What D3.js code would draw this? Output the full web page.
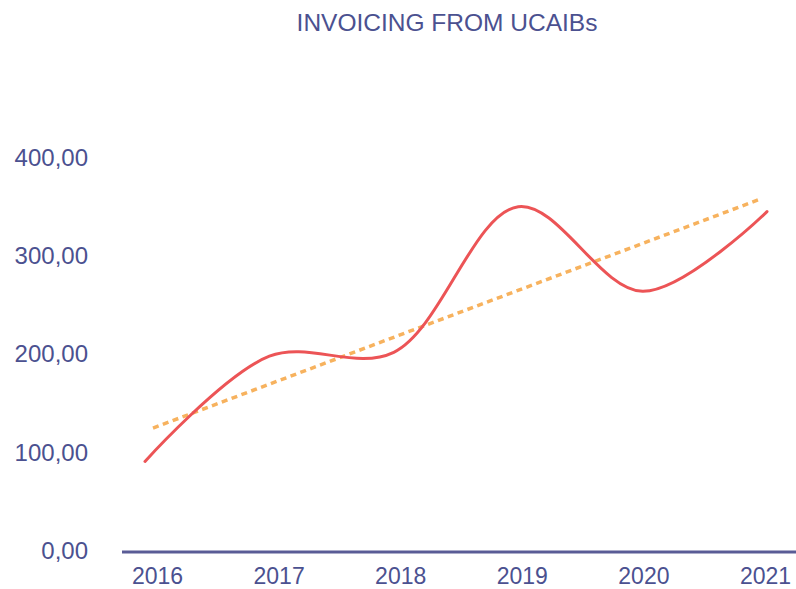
<!DOCTYPE html>
<html>
<head>
<meta charset="utf-8">
<script src="https://cdn.jsdelivr.net/npm/d3@7/dist/d3.min.js"></script>
<style>
  html, body { margin: 0; padding: 0; background: #ffffff; }
  svg { display: block; }
  text { font-family: "Liberation Sans", Arial, Helvetica, sans-serif; }
</style>
</head>
<body>
<svg id="chart" width="796" height="589"></svg>
<script>
const title = "INVOICING FROM UCAIBs";
const years = ["2016", "2017", "2018", "2019", "2020", "2021"];
const invoicing = [91, 198, 202, 350, 264, 345];
const trendYears = ["2016", "2021"];
const trendValues = [125, 358];
const yTicks = [0, 100, 200, 300, 400];

const svg = d3.select("#chart");
const textColor = "#4b5190";

const xLine = d3.scalePoint().domain(years).range([145, 767]);
const xLabel = d3.scalePoint().domain(years).range([157, 765]);
const y = d3.scaleLinear().domain([0, 400]).range([551, 157.5]);

const fmt = v => d3.format(".2f")(v).replace(".", ",");

// title
svg.append("text")
  .attr("x", 447).attr("y", 31)
  .attr("text-anchor", "middle")
  .attr("font-size", 24.5)
  .attr("fill", textColor)
  .text(title);

// y axis labels (no line)
const yAxis = d3.axisLeft(y).tickValues(yTicks).tickFormat(fmt).tickSize(0).tickPadding(0);
const gy = svg.append("g").attr("transform", "translate(88,0)").call(yAxis);
gy.select(".domain").remove();
gy.selectAll("text")
  .attr("font-size", 24)
  .attr("fill", textColor)
  .attr("font-family", "Liberation Sans, Arial, sans-serif");

// x axis
const xAxis = d3.axisBottom(xLabel).tickSize(0).tickPadding(0);
const gx = svg.append("g").attr("transform", "translate(0,552)").call(xAxis);
gx.select(".domain").remove();
gx.selectAll("text")
  .attr("font-size", 23)
  .attr("fill", textColor)
  .attr("y", 0)
  .attr("dy", 32)
  .attr("font-family", "Liberation Sans, Arial, sans-serif");

svg.append("line")
  .attr("x1", 122).attr("x2", 796)
  .attr("y1", 552).attr("y2", 552)
  .attr("stroke", "#5a5c96")
  .attr("stroke-width", 3);

// trend line
const trendData = trendYears.map((yr, i) => ({ yr, v: trendValues[i] }));
svg.append("path")
  .datum(trendData)
  .attr("fill", "none")
  .attr("stroke", "#f7b25e")
  .attr("stroke-width", 3.5)
  .attr("stroke-dasharray", "6,4.5")
  .attr("d", d3.line().x(d => xLabel(d.yr) - 4).y(d => y(d.v)));

// main curve
const lineData = years.map((yr, i) => ({ yr, v: invoicing[i] }));
svg.append("path")
  .datum(lineData)
  .attr("fill", "none")
  .attr("stroke", "#ec5456")
  .attr("stroke-width", 3)
  .attr("stroke-linecap", "round")
  .attr("d", d3.line().curve(d3.curveCatmullRom.alpha(0.5)).x(d => xLine(d.yr)).y(d => y(d.v)));
</script>
</body>
</html>
